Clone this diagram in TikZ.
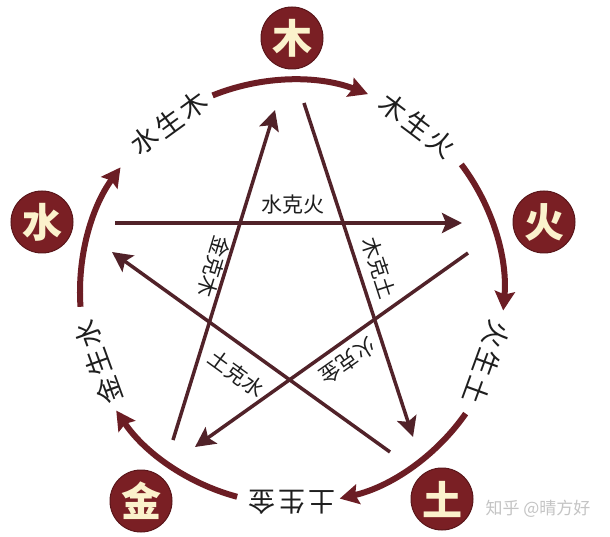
\documentclass[tikz,border=0pt]{standalone}
\usepackage{fontspec}
\newfontfamily\cjk{Noto Sans CJK SC}
\usetikzlibrary{arrows.meta}
\definecolor{arccol}{HTML}{6C1D24}
\definecolor{linecol}{HTML}{512229}
\definecolor{circfill}{HTML}{7A1F24}
\definecolor{circdraw}{HTML}{5A161A}
\definecolor{cream}{HTML}{FBF2CC}
\definecolor{txt}{HTML}{1E1E1E}
\definecolor{wm}{HTML}{C4C4C4}
\newcommand{\gsp}{\hspace{3pt}}
\begin{document}
\begin{tikzpicture}[x=1pt,y=1pt,
  elem/.style={circle, fill=circfill, draw=circdraw, line width=1pt, minimum size=62pt, inner sep=0pt,
    font=\cjk\bfseries\fontsize{40}{40}\selectfont, text=cream},
  shengarc/.style={draw=arccol, line width=6pt, -{Stealth[length=19pt,width=20pt,inset=3pt]}},
  keline/.style={draw=linecol, line width=3.5pt, -{Stealth[length=20pt,width=20pt,inset=4pt]}},
  shenglbl/.style={font=\cjk\fontsize{27}{27}\selectfont, inner sep=0pt, text=txt},
  kelbl/.style={font=\cjk\fontsize{21}{21}\selectfont, inner sep=0pt, text=txt}
]
\fill[white] (0,0) rectangle (610,536);
\useasboundingbox (0,0) rectangle (610,536);
\coordinate (C) at (292,244);

% element badges
\node[elem] (mu) at (292,498) {木};
\node[elem] (shui) at (42,314) {水};
\node[elem] (huo) at (544,314) {火};
\node[elem] (jin) at (141,35) {金};
\node[elem] (tu) at (442,37) {土};

% generating cycle arcs
\draw[shengarc] ([shift={(112:212)}]C) arc[start angle=112, end angle=69, radius=212];
\draw[shengarc] ([shift={(37:212)}]C) arc[start angle=37, end angle=-5, radius=212];
\draw[shengarc] ([shift={(-35:212)}]C) arc[start angle=-35, end angle=-77, radius=212];
\draw[shengarc] ([shift={(-105:212)}]C) arc[start angle=-105, end angle=-146, radius=212];
\draw[shengarc] ([shift={(184:212)}]C) arc[start angle=184, end angle=144, radius=212];

% generating labels
\node[shenglbl, rotate=36] (l1) at ([shift={(126:209)}]C) {水\gsp 生\gsp 木};
\node[shenglbl, rotate=-37] (l2) at ([shift={(53:209)}]C) {木\gsp 生\gsp 火};
\node[shenglbl, rotate=-110] (l3) at ([shift={(-20:207)}]C) {火\gsp 生\gsp 土};
\node[shenglbl, rotate=180] (l4) at ([shift={(-90:210)}]C) {土\gsp 生\gsp 金};
\node[shenglbl, rotate=110] (l5) at ([shift={(200:206)}]C) {金\gsp 生\gsp 水};

% controlling star
\coordinate (a1) at (115,313); \coordinate (b1) at (462,313);
\coordinate (a2) at (304,433); \coordinate (b2) at (413,99);
\coordinate (a3) at (468,283); \coordinate (b3) at (195,89);
\coordinate (a4) at (390,84);  \coordinate (b4) at (112,284);
\coordinate (a5) at (173,96);  \coordinate (b5) at (275,426);
\draw[keline] (a1) -- (b1);
\draw[keline] (a2) -- (b2);
\draw[keline] (a3) -- (b3);
\draw[keline] (a4) -- (b4);
\draw[keline] (a5) -- (b5);

\node[kelbl] (k1) at (293,331) {水克火};
\node[kelbl, rotate=-72] (k2) at (379,268) {木克土};
\node[kelbl, rotate=-145] (k3) at (348,175) {火克金};
\node[kelbl, rotate=-36] (k4) at (237,162) {土克水};
\node[kelbl, rotate=-107] (k5) at (214,269) {金克木};

% watermark
\node[font=\cjk\fontsize{17}{17}\selectfont, text=wm, inner sep=0pt] (wmk) at (538,27) {知乎 @晴方好};
\end{tikzpicture}
\end{document}
